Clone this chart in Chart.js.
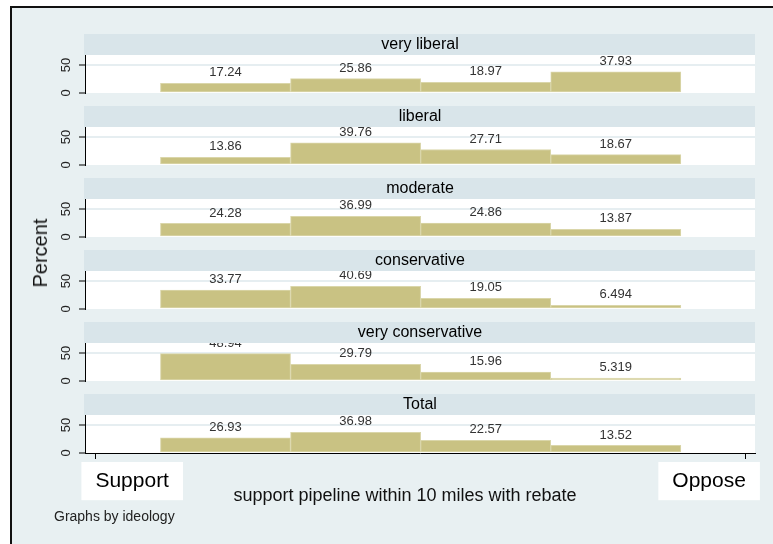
<!DOCTYPE html>
<html>
<head>
<meta charset="utf-8">
<script src="https://cdn.jsdelivr.net/npm/chart.js@4"></script>
<style>
html,body{margin:0;padding:0;background:#fff;width:773px;height:544px;overflow:hidden;font-family:'Liberation Sans',Arial,sans-serif;}
#frame{position:absolute;left:10px;top:6px;width:820px;height:600px;border-left:2px solid #111;border-top:2px solid #111;background:#E8F0F2;}
canvas{position:absolute;left:0;}
.t{position:absolute;white-space:nowrap;color:#111;line-height:1;}
#ytitle{left:40px;top:253px;font-size:20px;transform:translate(-50%,-50%) rotate(-90deg);}
#xtitle{left:405px;top:495px;font-size:18px;transform:translate(-50%,-50%);}
#note{left:54px;top:516px;font-size:14px;color:#222;transform:translateY(-50%);}
</style>
</head>
<body>
<div id="frame"></div>
<div id="panels"></div>
<div class="t" id="ytitle">Percent</div>
<div class="t" id="xtitle">support pipeline within 10 miles with rebate</div>
<div class="t" id="note">Graphs by ideology</div>
<script>
// ---- data ----
const panelTitles = ['very liberal', 'liberal', 'moderate', 'conservative', 'very conservative', 'Total'];
const categories = [1, 2, 3, 4];
const veryLiberal = [17.24, 25.86, 18.97, 37.93];
const liberal = [13.86, 39.76, 27.71, 18.67];
const moderate = [24.28, 36.99, 24.86, 13.87];
const conservative = [33.77, 40.69, 19.05, 6.494];
const veryConservative = [48.94, 29.79, 15.96, 5.319];
const total = [26.93, 36.98, 22.57, 13.52];
const yTickValues = [0, 50];
const xTickValues = [0, 5];
const xTickLabels = ['Support', 'Oppose'];

const panelValues = [veryLiberal, liberal, moderate, conservative, veryConservative, total];

// ---- layout / style ----
const FONT = "'Liberation Sans', Arial, sans-serif";
Chart.defaults.font.family = FONT;
const FIRST_TOP = 34, PITCH = 72, STRIP = 21, PLOT_H = 38, X_AXIS_H = 62;

const panelPlugin = {
  id: 'panelDeco',
  beforeDraw(chart, args, opts) {
    const {ctx, chartArea: a} = chart;
    ctx.save();
    ctx.fillStyle = '#ffffff';
    ctx.fillRect(a.left, a.top, a.right - a.left, a.bottom - a.top);
    ctx.fillStyle = '#D9E5EA';
    ctx.fillRect(a.left - 1, a.top - STRIP, a.right - a.left + 1, STRIP);
    ctx.fillStyle = '#000';
    ctx.font = '16px ' + FONT;
    ctx.textAlign = 'center';
    ctx.textBaseline = 'middle';
    ctx.fillText(opts.title, (a.left + a.right) / 2, a.top - STRIP / 2);
    ctx.restore();
  },
  afterDatasetsDraw(chart) {
    const {ctx, chartArea: a} = chart;
    const meta = chart.getDatasetMeta(0);
    const ds = chart.data.datasets[0].data;
    ctx.save();
    ctx.beginPath();
    ctx.rect(a.left, a.top, a.right - a.left, a.bottom - a.top);
    ctx.clip();
    ctx.fillStyle = '#333';
    ctx.font = '13px ' + FONT;
    ctx.textAlign = 'center';
    ctx.textBaseline = 'middle';
    meta.data.forEach((bar, j) => {
      ctx.fillText(String(ds[j].y), bar.x, bar.y - 10.5);
    });
    ctx.restore();
  }
};

const holder = document.getElementById('panels');
panelValues.forEach((vals, i) => {
  const last = i === panelValues.length - 1;
  const cv = document.createElement('canvas');
  const h = STRIP + PLOT_H + (last ? X_AXIS_H : 4);
  cv.width = 773; cv.height = h;
  cv.style.width = '773px'; cv.style.height = h + 'px';
  cv.style.top = (FIRST_TOP + PITCH * i) + 'px';
  holder.appendChild(cv);

  new Chart(cv, {
    type: 'bar',
    data: {
      datasets: [{
        data: categories.map((c, j) => ({x: c, y: vals[j]})),
        backgroundColor: '#C9C283',
        borderColor: '#DAD6AA',
        borderWidth: 1,
        borderSkipped: false,
        categoryPercentage: 1,
        barPercentage: 1
      }]
    },
    options: {
      responsive: false,
      animation: false,
      devicePixelRatio: 1,
      layout: {padding: {top: STRIP, left: 0, right: 18, bottom: last ? 0 : 4}},
      plugins: {
        legend: {display: false},
        tooltip: {enabled: false},
        panelDeco: {title: panelTitles[i]}
      },
      scales: {
        x: {
          type: 'linear',
          min: -0.08,
          max: 5.07,
          offset: false,
          display: last,
          afterBuildTicks: s => { s.ticks = xTickValues.map(v => ({value: v})); },
          afterFit: s => { s.height = last ? X_AXIS_H : 0; s.paddingLeft = 0; s.paddingRight = 0; },
          border: {display: true, color: '#000', width: 1},
          grid: {drawOnChartArea: false, drawTicks: true, tickLength: 6, tickColor: '#000', color: '#000', offset: false},
          ticks: {
            align: 'inner',
            autoSkip: false,
            minRotation: 0,
            maxRotation: 0,
            padding: 10,
            color: '#000',
            font: {size: 21, family: FONT},
            showLabelBackdrop: true,
            backdropColor: '#ffffff',
            backdropPadding: {top: 7, bottom: 6, left: 14, right: 14},
            callback: v => xTickLabels[xTickValues.indexOf(v)]
          }
        },
        y: {
          min: 0,
          max: 68,
          afterBuildTicks: s => { s.ticks = yTickValues.map(v => ({value: v})); },
          afterFit: s => { s.width = 85; s.paddingTop = 0; s.paddingBottom = 0; },
          border: {display: true, color: '#000', width: 1},
          grid: {
            color: c => (c.tick && c.tick.value === 50) ? '#E6EEF1' : 'rgba(0,0,0,0)',
            lineWidth: 2,
            drawTicks: true,
            tickLength: 6,
            tickColor: '#000',
            tickWidth: 1
          },
          ticks: {
            minRotation: 90,
            maxRotation: 90,
            crossAlign: 'center',
            padding: 5,
            color: '#222',
            font: {size: 13, family: FONT}
          }
        }
      }
    },
    plugins: [panelPlugin]
  });
});
</script>
</body>
</html>
